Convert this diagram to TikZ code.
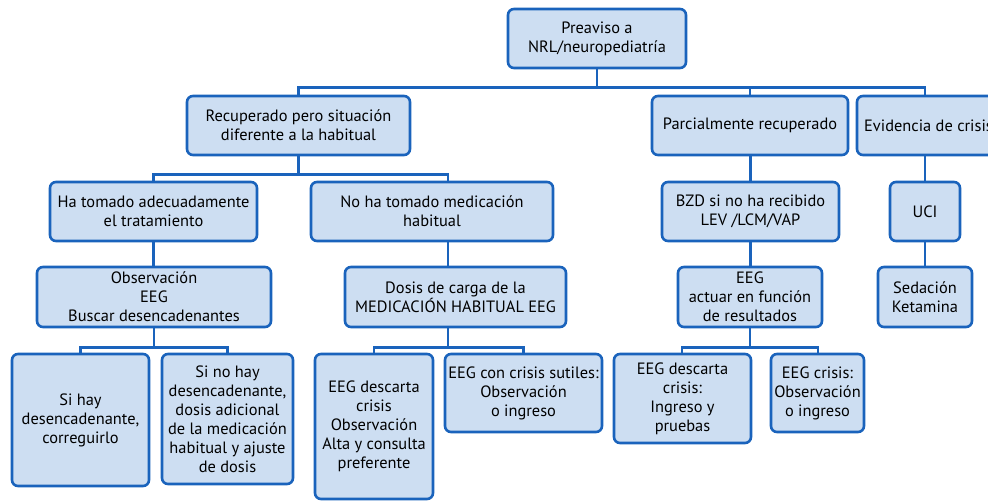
\documentclass[tikz,border=0pt]{standalone}
\usepackage{fontspec}
\setmainfont{PT Sans}
\definecolor{bord}{HTML}{1A63BC}
\definecolor{fillc}{HTML}{CDDEF2}
\tikzset{
  box/.style={draw=bord, fill=fillc, line width=2.6pt, rounded corners=6pt, inner sep=0pt, align=center, font=\fontsize{16.4}{19}\selectfont},
  conn/.style={draw=bord, line width=2.6pt}
}
\newcommand{\bx}[6]{\node[box, minimum width={#4-#2}, minimum height={#5-#3}] (#1) at ({(#2+#4)/2},{(#3+#5)/2}) {#6};}
\begin{document}
\begin{tikzpicture}[x=1pt,y=-1pt]
\useasboundingbox (0,0) rectangle (988,501);
\clip (0,0) rectangle (988,501);
% row 1
\bx{pre}{508}{9}{686}{68}{Preaviso a\\NRL/neuropediatría}
% row 2
\bx{rec}{187}{96}{410}{155}{Recuperado pero situación\\diferente a la habitual}
\bx{par}{652}{96}{848}{155}{Parcialmente recuperado}
\bx{evi}{857}{96}{1000}{155}{Evidencia de crisis}
% row 3
\bx{ha}{50}{182}{257}{241}{Ha tomado adecuadamente\\el tratamiento}
\bx{nh}{311}{182}{553}{241}{No ha tomado medicación\\habitual}
\bx{bzd}{662}{182}{839}{241}{BZD si no ha recibido\\LEV /LCM/VAP}
\bx{uci}{890}{182}{960}{241}{UCI}
% row 4
\bx{obs}{37}{267}{271}{327}{Observación\\EEG\\Buscar desencadenantes}
\bx{dc}{345}{267}{566}{327}{Dosis de carga de la\\MEDICACIÓN HABITUAL EEG}
\bx{eeg}{678}{267}{822}{327}{EEG\\actuar en función\\de resultados}
\bx{sed}{878}{267}{972}{327}{Sedación\\Ketamina}
% row 5
\bx{sh}{12}{354}{149}{486}{Si hay\\desencadenante,\\correguirlo}
\bx{snh}{162}{354}{293}{484}{Si no hay\\desencadenante,\\dosis adicional\\de la medicación\\habitual y ajuste\\de dosis}
\bx{edc}{315}{354}{433}{499}{EEG descarta\\crisis\\Observación\\Alta y consulta\\preferente}
\bx{ecs}{445}{354}{602}{432}{EEG con crisis sutiles:\\Observación\\o ingreso}
\bx{edi}{614}{354}{751}{443}{EEG descarta\\crisis:\\Ingreso y\\pruebas}
\bx{ec}{771}{354}{864}{432}{EEG crisis:\\Observación\\o ingreso}
% connectors
\draw[conn] (pre.south) -- ++(0,18) -| (rec.north);
\draw[conn] (pre.south) -- ++(0,18) -| (par.north);
\draw[conn] (pre.south) -- ++(0,18) -| (evi.north -| 925,0);
\draw[conn] (rec.south) -- ++(0,18) -| (ha.north);
\draw[conn] (rec.south) -- ++(0,18) -| (nh.north -| 448,0);
\draw[conn] (par.south -| bzd.north) -- (bzd.north);
\draw[conn] (evi.south -| 925,0) -- (uci.north -| 925,0);
\draw[conn] (ha.south) -- (obs.north -| ha.south);
\draw[conn] (nh.south -| 448,0) -- (dc.north -| 448,0);
\draw[conn] (bzd.south) -- (eeg.north -| bzd.south);
\draw[conn] (uci.south -| 925,0) -- (sed.north -| 925,0);
\draw[conn] (obs.south -| 154,0) -- ++(0,19) -| (sh.north);
\draw[conn] (obs.south -| 154,0) -- ++(0,19) -| (snh.north);
\draw[conn] (dc.south -| 448,0) -- ++(0,19) -| (edc.north);
\draw[conn] (dc.south -| 448,0) -- ++(0,19) -| (ecs.north);
\draw[conn] (eeg.south -| 750,0) -- ++(0,19) -| (edi.north -| 682,0);
\draw[conn] (eeg.south -| 750,0) -- ++(0,19) -| (ec.north -| 818,0);
\end{tikzpicture}
\end{document}
